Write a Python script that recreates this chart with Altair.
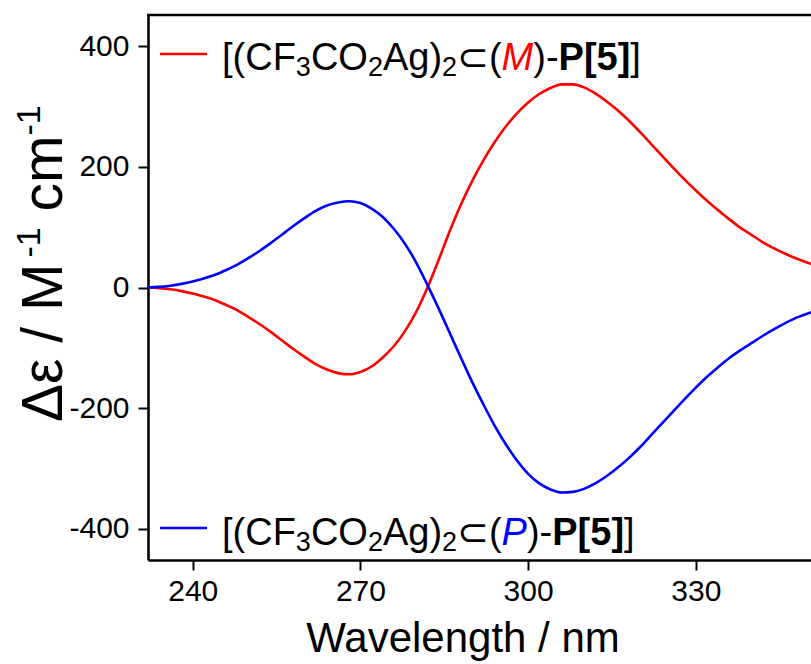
import altair as alt
import pandas as pd

# ---- data ----
wavelength = [232, 234, 236, 238, 240, 242, 244, 246, 248, 250, 252, 254, 256, 258, 260,
              262, 264, 266, 268, 270, 272, 274, 276, 278, 280, 282, 284, 286, 288, 290,
              292, 294, 296, 298, 300, 302, 304, 306, 308, 310, 312, 314, 316, 318, 320,
              322, 324, 326, 328, 330, 332, 334, 336, 338, 340, 342, 344, 346, 348, 350, 352]
cd_M = [0, -1, -3, -6, -10, -15, -21, -29, -38, -49, -61, -74, -88, -102, -115,
        -127, -136, -142, -144, -140, -131, -116, -97, -72, -40, 0, 46, 94, 138, 177,
        211, 241, 267, 289, 307, 321, 331, 337, 337, 332, 322, 309, 294, 277, 258,
        238, 218, 198, 179, 161, 144, 128, 113, 99, 87, 75, 65, 56, 48, 41, 35]
cd_P = [0, 1, 3, 6, 10, 15, 21, 29, 38, 49, 61, 74, 88, 102, 115,
        127, 136, 141, 143, 140, 131, 117, 97, 72, 41, 4, -35, -76, -117, -157,
        -194, -229, -260, -287, -309, -325, -335, -340, -339, -334, -325, -313, -299, -283, -265,
        -245, -225, -205, -185, -166, -148, -132, -117, -104, -92, -80, -69, -59, -50, -43, -37]
series_names = ["M", "P"]
series_colors = ["#ff0000", "#0000ff"]
x_ticks = [240, 270, 300, 330]
y_ticks = [-400, -200, 0, 200, 400]

FONT = "Liberation Sans"
W, H = 663, 545

df = pd.DataFrame({
    "wl": wavelength * 2,
    "cd": cd_M + cd_P,
    "s": ["M"] * len(wavelength) + ["P"] * len(wavelength),
})

lines = alt.Chart(df).mark_line(strokeWidth=2.6, clip=True, interpolate="monotone").encode(
    x=alt.X("wl:Q", scale=alt.Scale(domain=[232, 350.6], nice=False, zero=False),
            axis=alt.Axis(values=x_ticks, labelExpr="'' + datum.value", title=None, labelPadding=6)),
    y=alt.Y("cd:Q", scale=alt.Scale(domain=[-452, 452], nice=False, zero=False),
            axis=alt.Axis(values=y_ticks, labelExpr="'' + datum.value", title=None, labelPadding=9)),
    color=alt.Color("s:N", scale=alt.Scale(domain=series_names, range=series_colors), legend=None),
    detail="s:N",
)

one = pd.DataFrame({"k": [0]})

top_rule = alt.Chart(one).mark_rule(color="black", strokeWidth=2.6).encode(
    x=alt.value(-1), x2=alt.value(W + 5), y=alt.value(0))


def txt(s, x, y, size, color="black", style="normal", weight="normal", angle=0,
        align="left", baseline="alphabetic"):
    return alt.Chart(one).mark_text(
        text=s, font=FONT, fontSize=size, fontStyle=style, fontWeight=weight,
        color=color, align=align, baseline=baseline, angle=angle
    ).encode(x=alt.value(x), y=alt.value(y))


# approximate advance widths (em) of Liberation Sans, used to chain text pieces
EM = {"[": 0.278, "(": 0.333, "C": 0.722, "F": 0.611, "O": 0.778, "A": 0.667,
      "g": 0.556, ")": 0.333, "-": 0.333, "]": 0.278, "2": 0.556, "3": 0.556,
      "\u2282": 0.84, "M": 0.833, "P": 0.667, "5": 0.556, " ": 0.278, "/": 0.278,
      "\u0394": 0.668, "\u03b5": 0.55, "c": 0.5, "m": 0.833, "1": 0.556}
EM_BOLD = {"P": 0.667, "[": 0.333, "5": 0.556, "]": 0.333}


def adv(s, size, bold=False):
    table = EM_BOLD if bold else EM
    return sum(table.get(ch, EM.get(ch, 0.55)) for ch in s) * size


def legend_entry(letter, color, y_line, y_base):
    F, f = 38, 27
    pieces = [
        ("[(CF", F, 0, "black", "normal", "normal"),
        ("3", f, 6, "black", "normal", "normal"),
        ("CO", F, 0, "black", "normal", "normal"),
        ("2", f, 6, "black", "normal", "normal"),
        ("Ag)", F, 0, "black", "normal", "normal"),
        ("2", f, 6, "black", "normal", "normal"),
        ("\u2282(", F, 0, "black", "normal", "normal"),
        (letter, F, 0, color, "italic", "normal"),
        (")-", F, 0, "black", "normal", "normal"),
        ("P[5]", F, 0, "black", "normal", "bold"),
        ("]", F, 0, "black", "normal", "normal"),
    ]
    out = [alt.Chart(one).mark_rule(color=color, strokeWidth=2.6).encode(
        x=alt.value(12), x2=alt.value(59), y=alt.value(y_line))]
    x = 74
    for s, size, dy, c, st, wt in pieces:
        out.append(txt(s, x, y_base + dy, size, color=c, style=st, weight=wt))
        x += adv(s, size, bold=(wt == "bold"))
    return out


leg_M = legend_entry("M", "#ff0000", 39, 55)
leg_P = legend_entry("P", "#0000ff", 513, 530)

x_title = txt("Wavelength / nm", 315, 637, 42, align="center")

# y title, rotated, built from pieces (reading upward)
YF, Yf = 57, 34
yb = -86
y0 = 407
y_title = []
for s, size, dx, gap in [("\u0394\u03b5 / M", YF, 0, 0), ("-1", Yf, -22, 0),
                         ("cm", YF, 0, adv(" ", YF)), ("-1", Yf, -22, 0)]:
    y0 -= gap
    y_title.append(txt(s, yb + dx, y0, size, angle=270))
    y0 -= adv(s, size)

chart = alt.layer(lines, top_rule, *leg_M, *leg_P, x_title, *y_title).properties(
    width=W, height=H,
    autosize=alt.AutoSizeParams(type="none"),
    padding={"left": 148, "top": 15, "right": 0, "bottom": 104},
).configure_view(stroke=None).configure_axis(
    labelFont=FONT, labelFontSize=30, labelColor="black",
    tickColor="black", tickWidth=2, tickSize=10,
    domainColor="black", domainWidth=2.6, grid=False,
)

chart.save("out.html", embed_options={"renderer": "svg", "actions": False})
